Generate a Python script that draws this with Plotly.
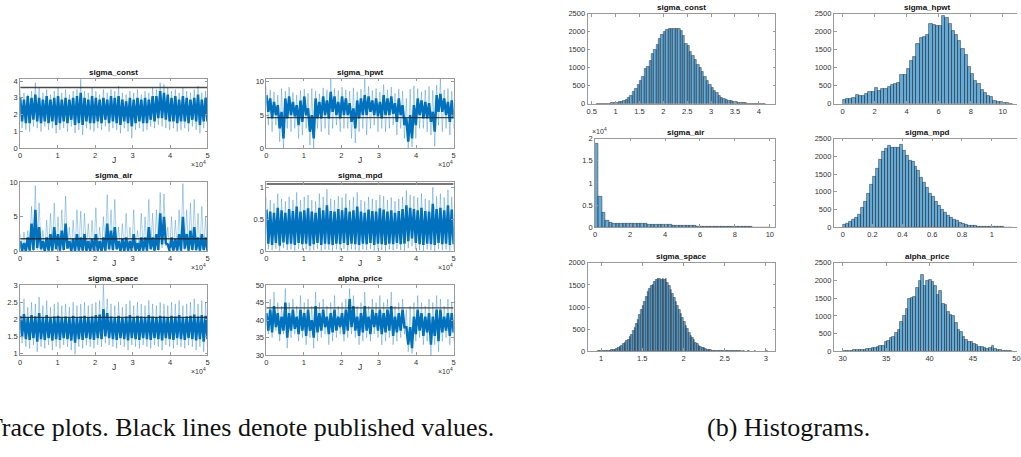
import numpy as np
import plotly.graph_objects as go

W, H = 1021, 457

# ---------------- DATA ----------------
params = ["sigma_const", "sigma_hpwt", "sigma_air", "sigma_mpd", "sigma_space", "alpha_price"]
published = [3.612, 4.628, 1.818, 1.050, 2.056, 43.501]
J_max = 50000

# trace envelopes, 50 windows of 1000 draws each:
# outer = extreme excursions, core = the dense part of the chain
const_hi = [3.5,3.3,3.2,3.4,3.9,3.6,3.3,3.5,3.2,3.4,3.6,3.3,3.5,3.2,3.4,3.5,4.1,3.4,3.3,3.6,3.4,3.2,3.5,3.3,3.5,3.4,3.7,3.3,3.2,3.4,3.3,3.5,3.2,3.4,3.3,3.6,3.5,3.9,3.8,3.6,3.4,3.5,3.3,3.6,3.4,3.3,3.5,3.7,3.3,3.4]
const_lo = [1.2,1.1,1.0,1.3,1.2,1.0,1.3,1.1,1.2,0.9,1.1,1.2,1.0,1.3,0.9,1.1,0.8,1.2,1.1,1.0,1.2,1.1,1.3,1.0,1.2,1.1,0.9,1.2,1.0,0.6,1.1,1.2,1.0,1.1,1.3,1.2,1.4,1.3,1.2,1.1,1.2,1.0,1.1,1.2,1.0,1.3,1.1,0.9,1.2,1.2]
const_core_hi = [3.0,2.9,3.1,3.0,3.2,3.0,2.9,3.1,2.9,3.0,3.1,2.9,3.0,2.9,3.0,3.1,3.3,3.0,2.9,3.1,3.0,2.9,3.0,2.9,3.1,3.0,3.1,2.9,2.8,3.0,2.9,3.0,2.9,3.0,2.9,3.1,3.1,3.4,3.3,3.2,3.0,3.1,2.9,3.1,3.0,2.9,3.0,3.2,2.9,3.0]
const_core_lo = [1.6,1.5,1.5,1.7,1.6,1.5,1.6,1.5,1.6,1.4,1.5,1.6,1.5,1.7,1.4,1.5,1.4,1.6,1.5,1.5,1.6,1.5,1.7,1.5,1.6,1.5,1.4,1.6,1.5,1.3,1.5,1.6,1.5,1.5,1.7,1.6,1.8,1.8,1.7,1.6,1.6,1.5,1.6,1.6,1.5,1.7,1.6,1.4,1.6,1.6]

hpwt_hi = [9.3,8.8,8.5,8.0,9.0,8.6,9.2,8.4,8.0,8.7,8.9,8.3,9.0,8.6,8.2,9.1,8.8,10.5,9.0,8.7,9.2,8.8,8.6,9.1,8.5,8.9,10.4,9.3,8.7,9.0,8.5,9.6,8.8,9.2,8.3,8.9,8.6,7.5,8.9,9.4,9.0,8.5,8.8,9.3,8.7,9.5,10.4,8.8,9.0,8.6]
hpwt_lo = [3.5,2.5,3.5,1.0,0.0,3.0,2.5,3.0,1.5,2.0,3.0,0.5,0.0,3.0,2.5,3.0,2.0,3.0,3.5,2.5,3.0,3.0,1.5,0.8,2.5,3.0,2.0,3.0,3.5,2.5,3.0,2.5,3.0,3.5,2.0,3.0,1.5,0.0,0.2,1.5,3.0,3.0,2.5,2.0,0.3,3.5,2.5,3.0,2.0,3.0]
hpwt_core_hi = [8.0,7.5,7.0,6.5,5.5,7.5,7.8,7.0,6.5,7.2,7.8,6.0,5.0,7.5,7.0,7.8,7.2,8.5,7.8,7.0,7.8,7.5,6.8,6.0,7.2,7.5,8.0,7.8,7.2,7.5,7.0,8.0,7.5,7.8,6.8,7.5,6.5,4.5,5.0,6.5,7.5,7.2,7.0,6.8,5.5,8.0,8.2,7.5,7.0,7.2]
hpwt_core_lo = [5.5,4.5,5.0,3.0,1.5,4.5,5.0,4.8,3.5,4.0,5.0,2.5,1.5,4.5,4.5,5.0,4.5,5.5,5.0,4.5,5.0,5.0,4.0,3.0,4.5,5.0,5.0,5.5,5.0,4.8,4.5,5.0,5.0,5.2,4.0,5.0,3.5,1.0,1.5,3.5,5.0,4.5,4.5,4.0,2.5,5.5,5.5,5.0,4.0,4.5]

air_hi = [2.5,2.8,3.0,6.5,9.5,7.0,3.0,4.5,5.5,7.0,5.0,6.0,8.0,3.5,4.5,6.0,5.8,5.5,4.0,4.5,6.3,3.5,5.0,8.2,6.0,7.5,3.5,4.0,5.5,3.5,6.0,3.0,5.5,5.0,7.5,5.5,6.0,8.5,8.3,3.5,5.0,4.5,6.0,9.8,6.0,7.0,7.5,5.5,6.5,5.0]
air_lo = [0.05,0.02,0.1,0.03,0.2,0.1,0.02,0.05,0.1,0.3,0.02,0.1,0.4,0.05,0.02,0.1,0.05,0.02,0.1,0.05,0.02,0.1,0.05,0.1,0.03,0.2,0.05,0.02,0.1,0.05,0.02,0.05,0.1,0.02,0.3,0.05,0.1,0.5,0.8,0.05,0.02,0.1,0.05,0.2,0.05,0.1,0.02,0.05,0.1,0.05]
air_core_hi = [1.5,1.2,2.0,4.0,6.0,3.5,1.5,2.0,2.5,3.5,2.5,3.0,4.0,1.5,1.8,2.5,2.0,2.5,1.5,1.8,2.5,1.5,2.0,4.0,3.0,3.5,1.5,1.8,2.0,1.5,2.5,1.2,2.0,2.0,3.5,2.0,2.5,5.5,5.0,1.0,2.0,1.8,2.5,5.0,2.5,3.0,3.5,2.0,2.5,2.0]
air_core_lo = [0.05,0.02,0.1,0.2,0.5,0.3,0.02,0.1,0.1,0.3,0.1,0.2,0.4,0.05,0.05,0.1,0.1,0.1,0.05,0.1,0.1,0.05,0.1,0.3,0.2,0.3,0.05,0.05,0.1,0.05,0.1,0.05,0.1,0.1,0.3,0.1,0.2,1.0,1.2,0.05,0.1,0.1,0.1,0.4,0.1,0.2,0.2,0.1,0.2,0.1]

mpd_hi = [0.85,0.80,0.75,0.90,0.82,0.78,0.85,0.80,0.92,0.80,0.85,0.88,0.80,0.78,0.90,0.85,0.97,0.82,0.80,0.86,0.84,0.90,0.80,0.85,0.92,0.80,0.78,0.85,0.82,0.80,0.88,0.86,0.80,0.84,0.78,0.82,0.85,0.95,0.88,0.86,0.84,0.90,0.82,0.80,1.00,0.86,0.90,0.84,0.96,0.85]
mpd_lo = [0.03,0.02,0.04,0.01,0.05,0.02,0.03,0.01,0.04,0.02,0.03,0.01,0.02,0.04,0.01,0.03,0.02,0.01,0.03,0.02,0.04,0.01,0.03,0.02,0.01,0.03,0.02,0.04,0.01,0.03,0.02,0.01,0.03,0.02,0.04,0.02,0.01,0.05,0.08,0.03,0.02,0.01,0.03,0.02,0.01,0.04,0.02,0.03,0.01,0.02]
mpd_core_hi = [0.65,0.62,0.60,0.68,0.64,0.60,0.66,0.63,0.70,0.62,0.64,0.67,0.62,0.60,0.68,0.64,0.72,0.63,0.62,0.66,0.64,0.68,0.62,0.64,0.70,0.62,0.60,0.65,0.63,0.62,0.67,0.65,0.62,0.64,0.60,0.63,0.66,0.72,0.68,0.66,0.64,0.68,0.63,0.62,0.74,0.66,0.68,0.64,0.72,0.65]
mpd_core_lo = [0.12,0.10,0.13,0.09,0.14,0.11,0.12,0.10,0.13,0.11,0.12,0.09,0.11,0.13,0.10,0.12,0.11,0.10,0.12,0.11,0.13,0.10,0.12,0.11,0.10,0.12,0.11,0.13,0.10,0.12,0.11,0.10,0.12,0.11,0.13,0.11,0.12,0.16,0.20,0.13,0.11,0.10,0.12,0.11,0.10,0.13,0.11,0.12,0.10,0.11]

space_hi = [2.45,2.60,2.35,2.50,2.45,2.65,2.40,2.55,2.35,2.45,2.50,2.40,2.45,2.35,2.50,2.40,2.45,2.50,2.40,2.45,2.50,2.55,3.00,2.60,2.45,2.40,2.50,2.35,2.45,2.55,2.40,2.50,2.45,2.40,2.55,2.45,2.40,2.50,2.45,2.40,2.50,2.45,2.55,2.40,2.45,2.50,2.60,2.45,2.55,2.50]
space_lo = [1.30,1.20,1.15,1.25,1.05,1.20,1.15,1.25,1.10,1.20,1.15,1.25,1.20,1.10,0.98,1.20,1.15,1.25,1.20,1.15,1.25,1.20,1.30,1.25,1.20,1.15,1.25,1.20,1.10,1.25,1.20,1.15,1.25,1.20,1.15,1.25,1.20,1.10,1.25,1.20,1.15,1.25,1.20,1.15,1.25,1.20,1.10,1.20,1.05,1.20]
space_core_hi = [2.10,2.15,2.05,2.12,2.08,2.18,2.05,2.12,2.04,2.08,2.10,2.06,2.08,2.04,2.10,2.06,2.08,2.10,2.06,2.08,2.12,2.14,2.30,2.18,2.08,2.06,2.10,2.04,2.08,2.12,2.06,2.10,2.08,2.06,2.12,2.08,2.06,2.10,2.08,2.06,2.10,2.08,2.12,2.06,2.08,2.10,2.14,2.08,2.12,2.10]
space_core_lo = [1.48,1.42,1.40,1.45,1.35,1.42,1.40,1.45,1.38,1.42,1.40,1.45,1.42,1.38,1.32,1.42,1.40,1.45,1.42,1.40,1.45,1.42,1.50,1.45,1.42,1.40,1.45,1.42,1.38,1.45,1.42,1.40,1.45,1.42,1.40,1.45,1.42,1.38,1.45,1.42,1.40,1.45,1.42,1.40,1.45,1.42,1.38,1.42,1.35,1.42]

price_hi = [44,46,48,45,44,49,45,46,44,47,45,46,44,48,45,46,44,45,47,44,45,46,49,47,44,45,48,44,46,45,47,45,46,48,44,45,46,43,44,45,47,45,44,46,45,47,46,44,46,45]
price_lo = [36,35,37,34,36,32,35,36,34,35,33,35,32,34,35,36,33,34,35,36,34,35,36,35,33,34,35,34,36,35,33,34,35,33,34,35,36,31,30.5,34,35,33,34,30,33,31,34,35,33,34]
price_core_hi = [42,43,44,42,41,45,42,43,41,43,42,43,40,44,42,43,41,42,43,41,42,43,46,44,41,42,44,41,43,42,43,42,43,44,41,42,43,38,38,41,43,42,41,42,41,43,43,41,42,42]
price_core_lo = [37,36.5,38,36,37,35,37,37.5,36,37,35.5,37,35,36.5,37,38,36,36.5,37,38,36,37,38,37,35.5,36.5,37,36,38,37,36,36.5,37,35.5,36.5,37,38,33,32,36,37,35.5,36.5,33,35.5,34,36.5,37,35.5,36.5]

trace_hi = [const_hi, hpwt_hi, air_hi, mpd_hi, space_hi, price_hi]
trace_lo = [const_lo, hpwt_lo, air_lo, mpd_lo, space_lo, price_lo]
core_hi = [const_core_hi, hpwt_core_hi, air_core_hi, mpd_core_hi, space_core_hi, price_core_hi]
core_lo = [const_core_lo, hpwt_core_lo, air_core_lo, mpd_core_lo, space_core_lo, price_core_lo]

# histograms: bin start, bin width, counts
hist_start = [0.6, 0.0, 0.0, 0.0, 0.96, 30.0]
hist_width = [0.05, 0.2, 0.2, 0.02, 0.02, 0.3]
const_counts = [2,3,4,5,7,9,12,18,30,45,65,85,110,160,230,320,420,530,640,760,970,1020,1200,1400,1500,1650,1800,1930,1990,2060,2070,2080,2090,2085,2090,2030,1880,1660,1600,1450,1330,1230,1080,1000,900,760,640,530,430,360,290,230,175,130,110,90,70,50,40,30,25,20,15,10,8,6,5,4,3,2,1]
hpwt_counts = [100,140,140,170,240,220,220,280,330,330,450,360,420,420,470,530,550,580,790,810,980,1180,1300,1670,1840,1870,1920,2220,2200,2170,2180,2440,2400,2210,2020,1930,1740,1520,1360,1030,820,650,560,380,290,220,180,90,60,40,30,20,10]
air_counts = [18800,6800,3200,1500,1100,900,800,850,850,820,800,850,800,780,750,700,650,620,600,560,520,500,450,420,400,350,320,300,270,230,200,180,160,140,120,100,90,80,70,60,55,50,40,35,30,25,20,15,10,5]
mpd_counts = [60,110,150,210,260,360,550,720,940,1190,1430,1640,1920,2130,2230,2290,2260,2250,2260,2320,2150,2030,1880,1840,1700,1600,1400,1250,1120,960,850,720,600,500,410,330,270,220,180,130,100,75,55,45,35,28,22,18,14,11,9,7,5,4,3,2,1]
space_counts = [2,3,5,7,10,12,15,20,28,35,45,60,75,100,130,160,190,230,270,320,380,460,530,620,720,820,930,1030,1130,1240,1350,1420,1470,1500,1560,1610,1630,1640,1620,1640,1610,1630,1540,1470,1400,1310,1220,1130,1020,940,850,760,660,580,500,420,360,300,250,200,165,135,110,90,72,58,45,36,28,22,18,14,11,9,7,6,5,4,3,3,2,2,2,1,1,1,1,0,1,0,0,1,0,0,0,1,0,0,0,0,0,0,1]
price_counts = [10,15,20,25,30,35,40,45,55,65,80,95,110,120,150,170,260,300,370,400,520,620,820,1000,1190,1480,1500,1550,1780,2000,2160,1850,1980,2030,1950,1850,1610,1700,1350,1300,1120,1030,1000,800,620,560,400,330,270,260,220,180,140,120,90,80,110,150,60,40,30,20,15,10,5]
hist_counts = [const_counts, hpwt_counts, air_counts, mpd_counts, space_counts, price_counts]

# axis ranges / ticks
trace_yrange = [[0, 4.15], [0, 10.5], [0, 10], [0, 1.08], [0.95, 3.0], [30, 50]]
trace_yticks = [[0, 1, 2, 3, 4], [0, 5, 10], [0, 5, 10], [0, 0.5, 1], [1, 1.5, 2, 2.5, 3], [30, 35, 40, 45, 50]]
J_ticks = [0, 10000, 20000, 30000, 40000, 50000]
J_ticktext = ["0", "1", "2", "3", "4", "5"]

hist_xrange = [[0.41, 4.35], [-0.55, 10.89], [0, 10.32], [-0.06, 1.169], [0.835, 3.117], [28.97, 50.06]]
hist_xticks = [[0.5, 1, 1.5, 2, 2.5, 3, 3.5, 4], [0, 2, 4, 6, 8, 10], [0, 2, 4, 6, 8, 10],
               [0, 0.2, 0.4, 0.6, 0.8, 1], [1, 1.5, 2, 2.5, 3], [30, 35, 40, 45, 50]]
hist_yrange = [[0, 2500], [0, 2500], [0, 20000], [0, 2500], [0, 2000], [0, 2500]]
hist_yticks = [[0, 500, 1000, 1500, 2000, 2500], [0, 500, 1000, 1500, 2000, 2500],
               [0, 5000, 10000, 15000, 20000], [0, 500, 1000, 1500, 2000, 2500],
               [0, 500, 1000, 1500, 2000], [0, 500, 1000, 1500, 2000, 2500]]

# ---------------- LAYOUT (pixel boxes) ----------------
trace_cols = [(18.3, 206.7), (266, 454.3)]
trace_rows = [(76, 147.3), (181.7, 252.3), (286.7, 358.3)]
hist_boxes_x = [(589, 778), (836.7, 1021), (596.7, 778), (836.7, 1021), (589, 778), (836.7, 1021)]
hist_rows = [(10, 101.7), (137.3, 227.7), (264, 354.3)]

BLUE = "#0072BD"
AX = "#9a9a9a"
TXT = "#333333"
SANS = "Liberation Sans, Arial, sans-serif"


def fx(p):
    return p / W


def fy(p):
    return 1 - p / H


fig = go.Figure()
layout = dict(width=W, height=H, margin=dict(l=0, r=0, t=0, b=0),
              paper_bgcolor="white", plot_bgcolor="white", showlegend=False,
              bargap=0)


def axis_style(**kw):
    d = dict(showline=True, linecolor=AX, linewidth=0.8, mirror="ticks", ticks="inside",
             ticklen=3, tickwidth=0.8, tickcolor=AX, showgrid=False, zeroline=False,
             tickfont=dict(family=SANS, size=7.5, color=TXT), fixedrange=True)
    d.update(kw)
    return d


def zigzag(hi, lo):
    z = np.empty(2 * len(hi))
    z[0::2] = hi
    z[1::2] = lo
    return z


ann = []
for k in range(6):
    idx = k + 1
    xa = "x" if idx == 1 else f"x{idx}"
    ya = "y" if idx == 1 else f"y{idx}"
    r, c = divmod(k, 2)
    x0, x1 = trace_cols[c]
    y0, y1 = trace_rows[r]
    # light outer excursions
    zo = zigzag(trace_hi[k], trace_lo[k])
    fig.add_trace(go.Scatter(x=np.linspace(0, J_max, len(zo)), y=zo, mode="lines",
                             line=dict(color="rgba(0,114,189,0.55)", width=0.6),
                             xaxis=xa, yaxis=ya, hoverinfo="skip"))
    # dense core of the chain
    zc = zigzag(core_hi[k], core_lo[k])
    fig.add_trace(go.Scatter(x=np.linspace(0, J_max, len(zc)), y=zc, mode="lines",
                             line=dict(color=BLUE, width=2.5),
                             xaxis=xa, yaxis=ya, hoverinfo="skip"))
    # published value
    fig.add_trace(go.Scatter(x=[0, J_max], y=[published[k], published[k]], mode="lines",
                             line=dict(color="rgba(30,30,30,0.8)", width=1.4),
                             xaxis=xa, yaxis=ya, hoverinfo="skip"))
    layout["xaxis" if idx == 1 else f"xaxis{idx}"] = axis_style(
        domain=[fx(x0), fx(x1)], anchor=ya, range=[0, J_max],
        tickvals=J_ticks, ticktext=J_ticktext)
    layout["yaxis" if idx == 1 else f"yaxis{idx}"] = axis_style(
        domain=[fy(y1), fy(y0)], anchor=xa, range=trace_yrange[k],
        tickvals=trace_yticks[k])
    ann.append(dict(text=f"<b>{params[k]}</b>", x=fx((x0 + x1) / 2), y=fy(y0), xref="paper",
                    yref="paper", xanchor="center", yanchor="bottom", showarrow=False,
                    font=dict(family=SANS, size=8, color="#111")))
    ann.append(dict(text="J", x=fx((x0 + x1) / 2), y=fy(y1 + 12), xref="paper", yref="paper",
                    xanchor="center", yanchor="middle", showarrow=False,
                    font=dict(family=SANS, size=8.5, color=TXT)))
    ann.append(dict(text="×10<sup>4</sup>", x=fx(x1 + 1), y=fy(y1 + 16), xref="paper", yref="paper",
                    xanchor="right", yanchor="middle", showarrow=False,
                    font=dict(family=SANS, size=7, color=TXT)))

for k in range(6):
    idx = k + 7
    xa, ya = f"x{idx}", f"y{idx}"
    r = k // 2
    x0, x1 = hist_boxes_x[k]
    y0, y1 = hist_rows[r]
    counts = np.array(hist_counts[k], dtype=float)
    centers = hist_start[k] + hist_width[k] * (np.arange(len(counts)) + 0.5)
    fig.add_trace(go.Bar(x=centers, y=counts, width=hist_width[k],
                         marker=dict(color="rgba(0,114,189,0.6)",
                                     line=dict(color="rgba(20,20,20,0.8)", width=0.5)),
                         xaxis=xa, yaxis=ya, hoverinfo="skip"))
    right_col = (k % 2 == 1)
    layout[f"xaxis{idx}"] = axis_style(domain=[fx(x0), fx(x1)], anchor=ya,
                                       range=hist_xrange[k], tickvals=hist_xticks[k],
                                       ticklabeloverflow="allow")
    ykw = dict(domain=[fy(y1), fy(y0)], anchor=xa, range=hist_yrange[k], tickvals=hist_yticks[k])
    if k == 2:
        ykw["ticktext"] = ["0", "0.5", "1", "1.5", "2"]
    if right_col:
        ykw["mirror"] = False
    layout[f"yaxis{idx}"] = axis_style(**ykw)
    cx = (x0 + 1025) / 2 if right_col else (x0 + x1) / 2
    ann.append(dict(text=f"<b>{params[k]}</b>", x=fx(cx), y=fy(y0), xref="paper", yref="paper",
                    xanchor="center", yanchor="bottom", showarrow=False,
                    font=dict(family=SANS, size=8, color="#111")))

# x10^4 exponent for sigma_air histogram y axis
ann.append(dict(text="×10<sup>4</sup>", x=fx(591), y=fy(130), xref="paper", yref="paper",
                xanchor="left", yanchor="middle", showarrow=False,
                font=dict(family=SANS, size=7, color=TXT)))

# captions
CAP = dict(family="Liberation Serif, Times New Roman, serif", size=26, color="#111")
ann.append(dict(text="(a) Trace plots. Black lines denote published values.", x=fx(497), y=fy(432),
                xref="paper", yref="paper", xanchor="right", yanchor="middle", showarrow=False,
                font=CAP))
ann.append(dict(text="(b) Histograms.", x=fx(707), y=fy(432), xref="paper", yref="paper",
                xanchor="left", yanchor="middle", showarrow=False, font=CAP))

layout["annotations"] = ann
fig.update_layout(**layout)
fig.write_html("out.html")
